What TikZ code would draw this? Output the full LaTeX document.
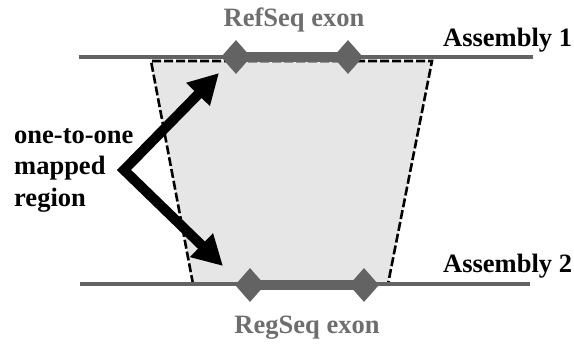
\documentclass[tikz,border=0pt]{standalone}
\usepackage{fontspec}
\setmainfont{Liberation Serif}
\usetikzlibrary{shapes.geometric,arrows.meta}
\definecolor{linegray}{HTML}{636363}
\definecolor{textgray}{HTML}{6E6E6E}
\definecolor{fillgray}{HTML}{E6E6E6}
\tikzset{
  seqline/.style={draw=linegray, line width=4pt},
  exonbar/.style={draw=linegray, line width=10pt},
  exonend/.style={diamond, fill=linegray, minimum width=30pt, minimum height=34pt, inner sep=0pt},
  bigtext/.style={font=\bfseries\fontsize{26.5}{32}\selectfont, inner sep=0pt},
  mapedge/.style={draw=black, line width=2.6pt, dash pattern=on 9pt off 3pt},
  pointer/.style={line width=10pt, line join=miter, {Triangle[length=30pt,width=31pt]}-{Triangle[length=30pt,width=31pt]}}
}
\begin{document}
\begin{tikzpicture}[x=1pt,y=-1pt]
\useasboundingbox (0,0) rectangle (574,345);
% mapped region
\coordinate (tl) at (151,61);
\coordinate (tr) at (432,61);
\coordinate (bl) at (193,284);
\coordinate (br) at (388,284);
\fill[fillgray] (tl) -- (tr) -- (br) -- (bl) -- cycle;
\draw[mapedge] (bl) -- (tl) -- (tr) -- (br);
% assembly lines
\coordinate (a1l) at (79,57);
\coordinate (a1r) at (533,57);
\coordinate (a2l) at (80,284);
\coordinate (a2r) at (530,284);
\draw[seqline] (a1l) -- (a1r);
\draw[seqline] (a2l) -- (a2r);
% exons
\node[exonend] (e1a) at (236,57) {};
\node[exonend] (e1b) at (348,57) {};
\draw[exonbar] (e1a.center) -- (e1b.center);
\node[exonend] (e2a) at (250,285) {};
\node[exonend] (e2b) at (364,285) {};
\draw[exonbar] (e2a.center) -- (e2b.center);
% labels
\node[bigtext, text=textgray, anchor=base] (ref) at (294,27) {RefSeq exon};
\node[bigtext, text=textgray, anchor=base] (reg) at (307,333) {RegSeq exon};
\node[bigtext, anchor=base west] (as1) at (443,47) {Assembly 1};
\node[bigtext, anchor=base west] (as2) at (443,272) {Assembly 2};
\node[bigtext, anchor=base west] (l1) at (14,143) {one-to-one};
\node[bigtext, anchor=base west] (l2) at (14,175) {mapped};
\node[bigtext, anchor=base west] (l3) at (14,207) {region};
% pointers
\coordinate (tipu) at (219,73);
\coordinate (vtx) at (124,170);
\coordinate (tipd) at (223,266);
\draw[pointer] (tipu) -- (vtx) -- (tipd);
\end{tikzpicture}
\end{document}
